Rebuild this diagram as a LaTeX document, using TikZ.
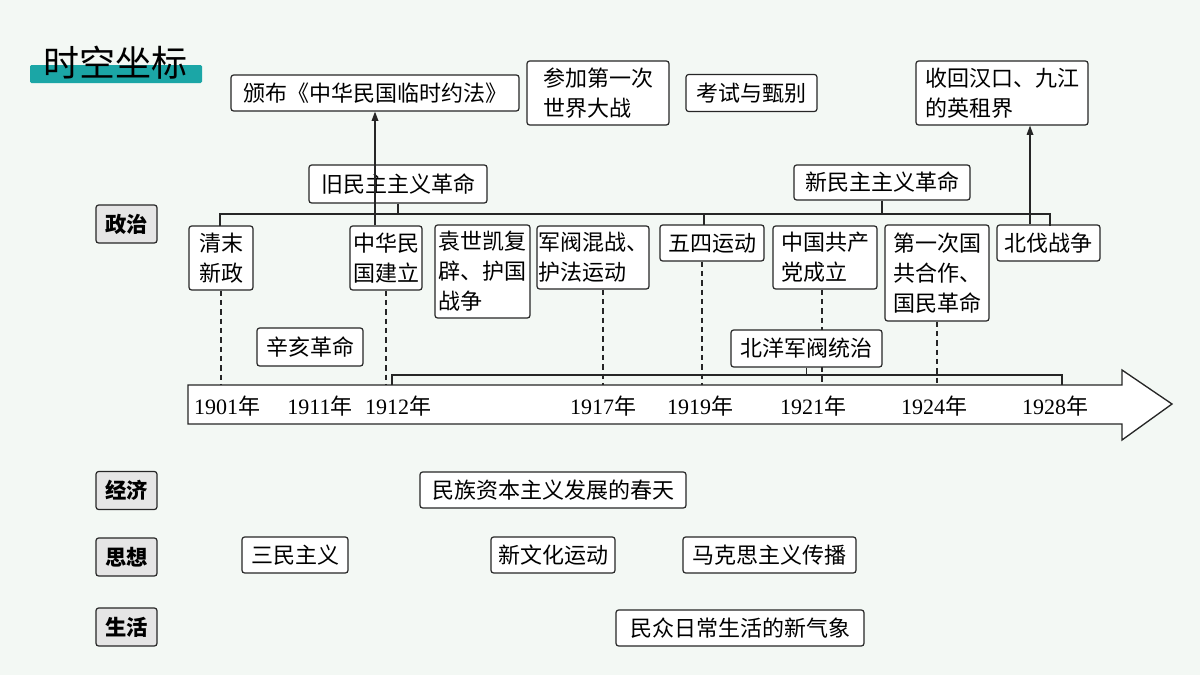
\documentclass[tikz,border=0pt]{standalone}
\usepackage{fontspec}
\setmainfont{Noto Sans CJK SC}
\newfontfamily\yrfont{Liberation Serif}
\usetikzlibrary{arrows.meta}
\definecolor{bgc}{HTML}{F3F8F4}
\definecolor{teal1}{HTML}{1BA6A6}
\begin{document}
\begin{tikzpicture}[x=0.75pt,y=-0.75pt,
  bx/.style={draw=black!85,line width=0.9pt,rounded corners=2pt,fill=white,inner sep=0pt,font=\fontsize{16.5}{22.5}\selectfont},
  cat/.style={draw=black!85,line width=0.9pt,rounded corners=2pt,fill=black!10,inner sep=0pt,font=\fontsize{16}{20}\selectfont\bfseries},
  ln/.style={line width=0.9pt,black!85},
  dl/.style={line width=0.8pt,black!85,dash pattern=on 4pt off 3pt},
  yr/.style={font=\fontsize{16.5}{20}\selectfont,inner sep=0pt}]
\fill[bgc] (0,0) rectangle (1200,675);
\useasboundingbox (0,0) rectangle (1200,675);
% title
\fill[teal1,rounded corners=1pt] (30,65) rectangle (202,83);
\node[font=\fontsize{27}{30}\selectfont,inner sep=0pt] (title) at (115,63) {时空坐标};
\newcommand{\bxn}[7]{\node[#1,minimum width=#4*0.75pt,minimum height=#5*0.75pt,align=#6] (#2) at (#3) {#7};}
\bxn{bx}{yuefa}{375,93}{288}{36}{center}{颁布《中华民国临时约法》}
\bxn{bx}{wwi}{598,93}{142}{64}{left}{参加第一次\\世界大战}
\bxn{bx}{kaoshi}{751.5,93}{131}{37}{center}{考试与甄别}
\bxn{bx}{zujie}{1002,93}{172}{64}{left}{收回汉口、九江\\的英租界}
\bxn{bx}{jiu}{398,184}{178}{38}{center}{旧民主主义革命}
\bxn{bx}{xin}{882,182.5}{176}{35}{center}{新民主主义革命}
\bxn{cat}{zz}{126.5,224}{61}{38}{center}{政治}
\bxn{bx}{qm}{221,258}{64}{64}{center}{清末\\新政}
\bxn{bx}{zh}{386,258}{72}{64}{center}{中华民\\国建立}
\bxn{bx}{ysk}{482.5,271.5}{95}{93}{left}{袁世凯复\\辟、护国\\战争}
\bxn{bx}{jf}{593,257.5}{112}{63}{left}{军阀混战、\\护法运动}
\bxn{bx}{ws}{712,243}{104}{36}{center}{五四运动}
\bxn{bx}{gcd}{825,257.5}{104}{63}{left}{中国共产\\党成立}
\bxn{bx}{dyc}{937,273}{104}{96}{left}{第一次国\\共合作、\\国民革命}
\bxn{bx}{bf}{1048.5,243}{103}{36}{center}{北伐战争}
\bxn{bx}{xh}{310,347}{106}{38}{center}{辛亥革命}
\bxn{bx}{by}{806.5,348.5}{151}{37}{center}{北洋军阀统治}
% connectors
\draw[ln,-{Triangle[length=7pt,width=5pt]}] (zh.north -| 375,0) -- (yuefa.south -| 375,0);
\draw[ln] (jiu.south) -- (398,214);
\draw[ln] (xin.south) -- (882,214);
\draw[ln] (220,226) -- (220,214) -- (1050,214) -- (1050,226);
\draw[ln] (704,214) -- (704,225);
\draw[ln,-{Triangle[length=7pt,width=5pt]}] (bf.north -| 1030,0) -- (zujie.south -| 1030,0);
% axis arrow
\draw[line width=1pt,black!85,fill=white] (188,385) -- (1122,385) -- (1122,370) -- (1172,404) -- (1122,440) -- (1122,424) -- (188,424) -- cycle;
% bracket
\draw[ln] (392,385) -- (392,375) -- (1062,375) -- (1062,385);
\draw[ln] (by.south) -- (806.5,375);
% dashed
\draw[dl] (qm.south -| 221,0) -- (221,385);
\draw[dl] (zh.south) -- (386,385);
\draw[dl] (jf.south -| 603,0) -- (603,385);
\draw[dl] (ws.south -| 702,0) -- (702,385);
\draw[dl] (gcd.south -| 822,0) -- (822,330);
\draw[dl] (822,367) -- (822,385);
\draw[dl] (dyc.south) -- (937,385);
% years
\foreach \n/\x/\t in {y1/227/1901,y2/320/1911,y3/398/1912,y4/603/1917,y5/700/1919,y6/813/1921,y7/934/1924,y8/1055/1928}
  \node[yr] (\n) at (\x,406) {{\yrfont\t}年};
% other rows
\bxn{cat}{jj}{126.5,490.5}{61}{38}{center}{经济}
\bxn{cat}{sx}{126.5,557}{61}{38}{center}{思想}
\bxn{cat}{sh}{126.5,627}{61}{38}{center}{生活}
\bxn{bx}{mz}{553,490}{266}{36}{center}{民族资本主义发展的春天}
\bxn{bx}{smzy}{295,555}{106}{36}{center}{三民主义}
\bxn{bx}{xwh}{553,555}{124}{36}{center}{新文化运动}
\bxn{bx}{mks}{769.5,555}{173}{36}{center}{马克思主义传播}
\bxn{bx}{mzrc}{740,628}{248}{36}{center}{民众日常生活的新气象}
\end{tikzpicture}
\end{document}
